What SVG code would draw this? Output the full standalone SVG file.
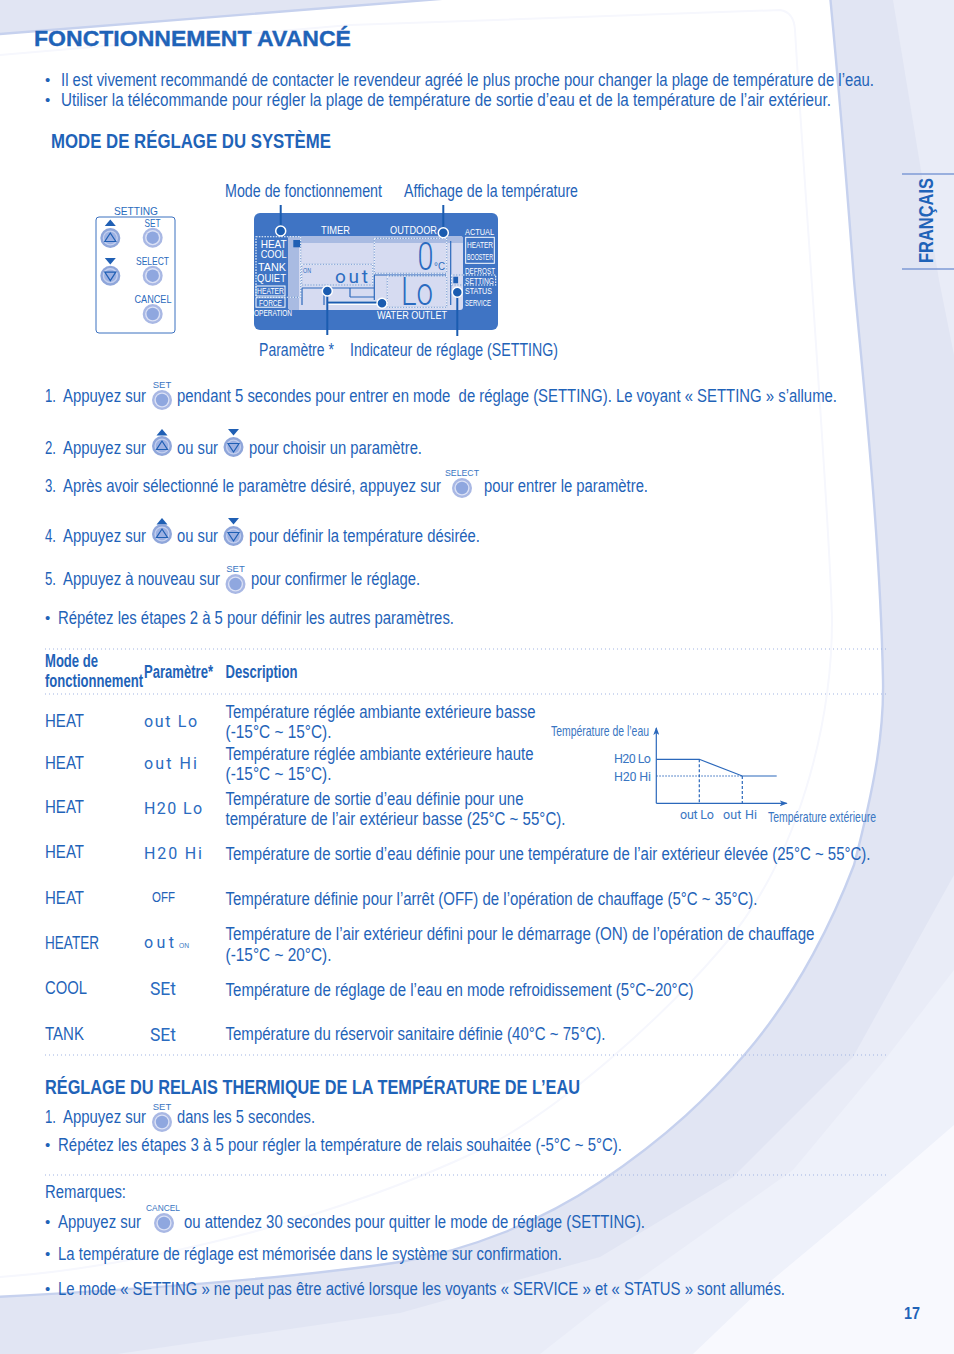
<svg xmlns="http://www.w3.org/2000/svg" width="954" height="1354" viewBox="0 0 954 1354">
<style>
text{font-family:"Liberation Sans",Arial,sans-serif;fill:#1f63b8}
.t{font-size:17.5px}
.bu{font-size:15px}
.b{font-weight:bold}
.h{font-size:20.5px;font-weight:bold}
.th{font-size:17.5px;font-weight:bold}
.sm{font-size:14.5px;fill:#3a76c2}
.lb{font-size:9.5px;fill:#3a76c2;text-anchor:middle}
.rl{font-size:11.5px;text-anchor:middle;fill:#2a6bbd}
.seg{font-family:Roboto,"Liberation Sans",sans-serif;font-size:16px;font-weight:400;fill:#2a6bc0}
.segs{font-family:Roboto,"Liberation Sans",sans-serif;font-size:12.5px;fill:#3a76c2}
.w{fill:#fff;font-size:10.5px}
.ws{fill:#fff;font-size:9px}
.dot{stroke:#9fb3e2;stroke-width:1;stroke-dasharray:1 3;fill:none}
.lead{stroke:#1b5cb0;stroke-width:2;fill:none}
.lcdl{stroke:#2b68bb;stroke-width:1.2;fill:none}
.dash{fill:none;stroke:#fff;stroke-width:1.1;stroke-dasharray:1.6 1.2}
.dashb{fill:none;stroke:#2b68bb;stroke-width:1.1;stroke-opacity:.5}
.ch{stroke:#2b68bb;stroke-width:1.2;fill:none}
</style>
<defs>
<g id="btn"><circle r="10" fill="#a9b8e4"/><circle r="7.6" fill="#dbe1f5"/><circle r="6.2" fill="#8fa7df"/></g>
<g id="up"><circle r="10" fill="#8fa6da"/><circle r="7.6" fill="#c3cfee"/><circle r="6.2" fill="#9db1e2"/><path d="M0-5 L5.5 3.5 H-5.5Z" fill="none" stroke="#1f5fb4" stroke-width="1.2"/></g>
<g id="down"><circle r="10" fill="#8fa6da"/><circle r="7.6" fill="#c3cfee"/><circle r="6.2" fill="#9db1e2"/><path d="M0 5 L5.5 -3.5 H-5.5Z" fill="none" stroke="#1f5fb4" stroke-width="1.2"/></g>
<path id="tu" d="M0 0 L5.5 6.5 H-5.5Z" fill="#1f5fb4"/>
<path id="td" d="M0 6.5 L5.5 0 H-5.5Z" fill="#1f5fb4"/>
<marker id="ah" markerWidth="8" markerHeight="6" refX="7" refY="3" orient="auto" markerUnits="userSpaceOnUse"><path d="M0 0 L8 3 L0 6 L2 3Z" fill="#2b68bb"/></marker>
</defs>

<g id="background">
<rect width="954" height="1354" fill="#e1e5f3"/>
<path d="M893 0H954V355L939 280Z" fill="#e9ecf7"/>
<path d="M954 875L853 1057L733 1177L600 1257L400 1313L117 1354H954Z" fill="#e9ecf7"/>
<path d="M954 970L887 1057L793 1170L600 1307L540 1354H954Z" fill="#eef1fa"/>
<path d="M954 1125L850 1215L760 1290L693 1354H954Z" fill="#f8f9fe"/>
<path d="M-5 34.400L490 -5H830C840 100 848 200 854 280C862 370 880 530 883 680C884 730 876 780 854 865C835 915 800 990 746 1053C710 1095 670 1135 600 1182C540 1222 470 1250 400 1262C280 1280 130 1290 -5 1297Z" fill="#fff" stroke="#c6d1ee" stroke-width="2.400"/>
<path d="M0 55L350 25L780 10Q794 12 795 30C805 200 830 520 832 620C832 720 800 860 720 950C660 1020 560 1110 480 1150C300 1235 100 1270 0 1277" fill="none" stroke="#f6f7fd" stroke-width="2"/>
</g>

<g id="header">
<text class="h" x="34" y="46" textLength="317" lengthAdjust="spacingAndGlyphs" style="font-size:21.5px;stroke:#1f63b8;stroke-width:.35">FONCTIONNEMENT AVANCÉ</text>
<text class="bu" x="45" y="85">•</text>
<text class="t" x="61" y="86" textLength="813" lengthAdjust="spacingAndGlyphs">Il est vivement recommandé de contacter le revendeur agréé le plus proche pour changer la plage de température de l’eau.</text>
<text class="bu" x="45" y="105">•</text>
<text class="t" x="61" y="106" textLength="770" lengthAdjust="spacingAndGlyphs">Utiliser la télécommande pour régler la plage de température de sortie d’eau et de la température de l’air extérieur.</text>
<text class="h" x="51" y="148" textLength="280" lengthAdjust="spacingAndGlyphs">MODE DE RÉGLAGE DU SYSTÈME</text>
</g>

<g id="remote">
<rect x="96" y="217" width="79" height="116" rx="3" fill="#fff" stroke="#3a70bf" stroke-width="1"/>
<text class="rl" x="136" y="215" textLength="44" lengthAdjust="spacingAndGlyphs">SETTING</text>
<text class="rl" x="152.500" y="227" textLength="16" lengthAdjust="spacingAndGlyphs">SET</text>
<text class="rl" x="152.500" y="265" textLength="33" lengthAdjust="spacingAndGlyphs">SELECT</text>
<text class="rl" x="153" y="303" textLength="37" lengthAdjust="spacingAndGlyphs">CANCEL</text>
<use href="#tu" x="110.300" y="219.500"/><use href="#up" x="110.300" y="238"/>
<use href="#td" x="110.300" y="258"/><use href="#down" x="110.300" y="275.700"/>
<use href="#btn" x="152.700" y="237.700"/><use href="#btn" x="152.700" y="275.700"/><use href="#btn" x="152.700" y="314"/>
</g>

<g id="lcd-labels">
<text class="t" x="225" y="197" textLength="157" lengthAdjust="spacingAndGlyphs">Mode de fonctionnement</text>
<text class="t" x="404" y="197" textLength="174" lengthAdjust="spacingAndGlyphs">Affichage de la température</text>
<text class="t" x="259" y="356" textLength="75" lengthAdjust="spacingAndGlyphs">Paramètre *</text>
<text class="t" x="350" y="356" textLength="208" lengthAdjust="spacingAndGlyphs">Indicateur de réglage (SETTING)</text>
</g>

<g id="lcd">
<rect x="254" y="213" width="244" height="117" rx="6" fill="#3f74c4"/>
<rect x="288" y="236" width="175" height="74" rx="3" fill="#d6dbf1"/>
<path d="M288 239q0-3 3-3H460q3 0 3 3v4H299v67H291q-3 0-3-3Z" fill="#a9bbe2"/>
<text class="w" x="321" y="233.500" textLength="29" lengthAdjust="spacingAndGlyphs">TIMER</text>
<text class="w" x="390" y="233.500" textLength="47" lengthAdjust="spacingAndGlyphs">OUTDOOR</text>
<text class="ws" x="465" y="234.500" textLength="29" lengthAdjust="spacingAndGlyphs">ACTUAL</text>
<rect x="465.700" y="237.300" width="28.600" height="26" fill="none" stroke="#fff" stroke-width="1"/>
<text class="ws" x="467" y="247.700" textLength="26" lengthAdjust="spacingAndGlyphs">HEATER</text>
<text class="ws" x="467" y="259.500" textLength="26" lengthAdjust="spacingAndGlyphs">BOOSTER</text>
<text class="ws" x="465" y="273.500" textLength="30" lengthAdjust="spacingAndGlyphs">DEFROST</text>
<text class="ws" x="465" y="283.500" textLength="29" lengthAdjust="spacingAndGlyphs">SETTING</text>
<text class="ws" x="465" y="294" textLength="27" lengthAdjust="spacingAndGlyphs">STATUS</text>
<text class="ws" x="465" y="306" textLength="26" lengthAdjust="spacingAndGlyphs">SERVICE</text>
<text class="w" x="260.700" y="247.700" textLength="26" lengthAdjust="spacingAndGlyphs" style="font-size:11.5px">HEAT</text>
<text class="w" x="260.700" y="258" textLength="26" lengthAdjust="spacingAndGlyphs" style="font-size:11.5px">COOL</text>
<text class="w" x="258" y="271" textLength="28" lengthAdjust="spacingAndGlyphs" style="font-size:11.500px">TANK</text>
<text class="w" x="257" y="282" textLength="29" lengthAdjust="spacingAndGlyphs" style="font-size:11.500px">QUIET</text>
<rect x="256" y="286" width="29" height="10" fill="none" stroke="#fff" stroke-width="1"/>
<text class="ws" x="257" y="294" textLength="27" lengthAdjust="spacingAndGlyphs">HEATER</text>
<rect x="256" y="297.700" width="29" height="9.500" fill="none" stroke="#fff" stroke-width="1"/>
<text class="ws" x="259" y="305.500" textLength="23" lengthAdjust="spacingAndGlyphs">FORCE</text>
<text class="ws" x="254" y="316" textLength="38" lengthAdjust="spacingAndGlyphs">OPERATION</text>
<text class="w" x="377" y="318.500" textLength="70" lengthAdjust="spacingAndGlyphs">WATER OUTLET</text>
<path class="lcdl" d="M302 288V305M302 288H374M350 288V297M350 297H374M324 288V305M374.300 275V300M374 275H446M450.700 241V305"/>
<rect x="293.300" y="240" width="7.400" height="7.300" fill="#1f5fb4"/>
<rect x="453.300" y="276.700" width="4.800" height="6.600" fill="#1f5fb4"/>
<text x="303" y="273" textLength="8" lengthAdjust="spacingAndGlyphs" style="font-size:7.500px;fill:#2a6bbd">ON</text>
<text class="seg" x="335" y="283" textLength="33" lengthAdjust="spacing" style="font-size:19px">out</text>
<text class="seg" x="417.500" y="270" textLength="16" lengthAdjust="spacingAndGlyphs" style="font-size:38px;font-weight:300">0</text>
<text x="434" y="270" textLength="11" lengthAdjust="spacingAndGlyphs" style="font-size:10px;fill:#2a6bbd">°C</text>
<text class="seg" x="401" y="305" textLength="32" lengthAdjust="spacingAndGlyphs" style="font-size:38px;font-weight:300">Lo</text>
<g>
<rect class="dashb" x="256" y="236.700" width="44.700" height="60.600"/><rect class="dash" x="256" y="236.700" width="44.700" height="60.600"/>
<rect class="dashb" x="374.300" y="238.300" width="72.400" height="35"/><rect class="dash" x="374.300" y="238.300" width="72.400" height="35"/>
<rect class="dashb" x="301.700" y="264.300" width="71" height="20.700"/><rect class="dash" x="301.700" y="264.300" width="71" height="20.700"/>
<rect class="dashb" x="387.300" y="276" width="59.400" height="31.300"/><rect class="dash" x="387.300" y="276" width="59.400" height="31.300"/>
<rect class="dashb" x="451.700" y="275" width="44" height="10"/><rect class="dash" x="451.700" y="275" width="44" height="10"/>
</g>
</g>

<g id="connectors">
<path class="lead" d="M280.700 205V231"/>
<path class="lead" d="M443.300 205V232"/>
<path d="M327.300 303H382" stroke="#fff" stroke-width="4" fill="none"/>
<path class="lead" d="M327.300 291V335M327.300 302.500H382"/>
<path class="lead" d="M457.300 292V336"/>
<g fill="#1b5cb0" stroke="#fff" stroke-width="1.500">
<circle cx="280.700" cy="231" r="5"/><circle cx="443.300" cy="232.700" r="5"/><circle cx="327.300" cy="291" r="5"/><circle cx="382" cy="303.300" r="5"/><circle cx="457.300" cy="292.300" r="5"/>
</g>
</g>

<g id="steps">
<text class="t" x="45" y="402" textLength="11" lengthAdjust="spacingAndGlyphs">1.</text><text class="t" x="63" y="402" textLength="83" lengthAdjust="spacingAndGlyphs">Appuyez sur</text>
<text class="lb" x="162" y="388">SET</text><use href="#btn" x="162" y="400"/>
<text class="t" x="177" y="402" textLength="660" lengthAdjust="spacingAndGlyphs" xml:space="preserve">pendant 5 secondes pour entrer en mode  de réglage (SETTING). Le voyant « SETTING » s’allume.</text>
<text class="t" x="45" y="454" textLength="11" lengthAdjust="spacingAndGlyphs">2.</text><text class="t" x="63" y="454" textLength="83" lengthAdjust="spacingAndGlyphs">Appuyez sur</text>
<use href="#tu" x="162" y="429"/><use href="#up" x="162" y="446"/>
<text class="t" x="177" y="454" textLength="41" lengthAdjust="spacingAndGlyphs">ou sur</text>
<use href="#td" x="233.500" y="429"/><use href="#down" x="233.500" y="447"/>
<text class="t" x="249" y="454" textLength="173" lengthAdjust="spacingAndGlyphs">pour choisir un paramètre.</text>
<text class="t" x="45" y="492" textLength="11" lengthAdjust="spacingAndGlyphs">3.</text><text class="t" x="63" y="492" textLength="378" lengthAdjust="spacingAndGlyphs">Après avoir sélectionné le paramètre désiré, appuyez sur</text>
<text class="lb" x="462" y="476" textLength="34" lengthAdjust="spacingAndGlyphs">SELECT</text><use href="#btn" x="462" y="488"/>
<text class="t" x="484" y="492" textLength="164" lengthAdjust="spacingAndGlyphs">pour entrer le paramètre.</text>
<text class="t" x="45" y="542" textLength="11" lengthAdjust="spacingAndGlyphs">4.</text><text class="t" x="63" y="542" textLength="83" lengthAdjust="spacingAndGlyphs">Appuyez sur</text>
<use href="#tu" x="162" y="518"/><use href="#up" x="162" y="534"/>
<text class="t" x="177" y="542" textLength="41" lengthAdjust="spacingAndGlyphs">ou sur</text>
<use href="#td" x="233.500" y="518"/><use href="#down" x="233.500" y="536"/>
<text class="t" x="249" y="542" textLength="231" lengthAdjust="spacingAndGlyphs">pour définir la température désirée.</text>
<text class="t" x="45" y="585" textLength="11" lengthAdjust="spacingAndGlyphs">5.</text><text class="t" x="63" y="585" textLength="157" lengthAdjust="spacingAndGlyphs">Appuyez à nouveau sur</text>
<text class="lb" x="235.500" y="572">SET</text><use href="#btn" x="235.500" y="584"/>
<text class="t" x="251" y="585" textLength="169" lengthAdjust="spacingAndGlyphs">pour confirmer le réglage.</text>
<text class="bu" x="45" y="623">•</text>
<text class="t" x="58" y="624" textLength="396" lengthAdjust="spacingAndGlyphs">Répétez les étapes 2 à 5 pour définir les autres paramètres.</text>
</g>

<g id="rules">
<path class="dot" d="M45 649H888M45 694H888M45 1055H888M45 1175H888"/>
</g>

<g id="table">
<text class="th" x="45" y="667" textLength="53" lengthAdjust="spacingAndGlyphs">Mode de</text>
<text class="th" x="45" y="687" textLength="98" lengthAdjust="spacingAndGlyphs">fonctionnement</text>
<text class="th" x="144" y="678" textLength="69" lengthAdjust="spacingAndGlyphs">Paramètre*</text>
<text class="th" x="225.500" y="678" textLength="72" lengthAdjust="spacingAndGlyphs">Description</text>

<text class="t" x="45" y="727" textLength="39" lengthAdjust="spacingAndGlyphs">HEAT</text>
<text class="seg" x="144" y="727" textLength="53" lengthAdjust="spacing">out Lo</text>
<text class="t" x="225.500" y="718" textLength="310" lengthAdjust="spacingAndGlyphs">Température réglée ambiante extérieure basse</text>
<text class="t" x="225.500" y="738" textLength="106" lengthAdjust="spacingAndGlyphs">(-15°C ~ 15°C).</text>

<text class="t" x="45" y="769" textLength="39" lengthAdjust="spacingAndGlyphs">HEAT</text>
<text class="seg" x="144" y="769" textLength="53" lengthAdjust="spacing">out Hi</text>
<text class="t" x="225.500" y="760" textLength="308" lengthAdjust="spacingAndGlyphs">Température réglée ambiante extérieure haute</text>
<text class="t" x="225.500" y="780" textLength="106" lengthAdjust="spacingAndGlyphs">(-15°C ~ 15°C).</text>

<text class="t" x="45" y="813" textLength="39" lengthAdjust="spacingAndGlyphs">HEAT</text>
<text class="seg" x="144" y="814" textLength="58" lengthAdjust="spacing">H20 Lo</text>
<text class="t" x="225.500" y="805" textLength="298" lengthAdjust="spacingAndGlyphs">Température de sortie d’eau définie pour une</text>
<text class="t" x="225.500" y="825" textLength="340" lengthAdjust="spacingAndGlyphs">température de l’air extérieur basse (25°C ~ 55°C).</text>

<text class="t" x="45" y="858" textLength="39" lengthAdjust="spacingAndGlyphs">HEAT</text>
<text class="seg" x="144" y="859" textLength="58" lengthAdjust="spacing">H20 Hi</text>
<text class="t" x="225.500" y="860" textLength="645" lengthAdjust="spacingAndGlyphs">Température de sortie d’eau définie pour une température de l’air extérieur élevée (25°C ~ 55°C).</text>

<text class="t" x="45" y="904" textLength="39" lengthAdjust="spacingAndGlyphs">HEAT</text>
<text x="152" y="902" textLength="23" lengthAdjust="spacingAndGlyphs" style="font-size:14px">OFF</text>
<text class="t" x="225.500" y="905" textLength="532" lengthAdjust="spacingAndGlyphs">Température définie pour l’arrêt (OFF) de l’opération de chauffage (5°C ~ 35°C).</text>

<text class="t" x="45" y="949" textLength="54" lengthAdjust="spacingAndGlyphs">HEATER</text>
<text class="seg" x="144" y="948" textLength="30" lengthAdjust="spacing">out</text>
<text x="179" y="948" textLength="10" lengthAdjust="spacingAndGlyphs" style="font-size:8px;fill:#3a76c2">ON</text>
<text class="t" x="225.500" y="940" textLength="589" lengthAdjust="spacingAndGlyphs">Température de l’air extérieur défini pour le démarrage (ON) de l’opération de chauffage</text>
<text class="t" x="225.500" y="961" textLength="106" lengthAdjust="spacingAndGlyphs">(-15°C ~ 20°C).</text>

<text class="t" x="45" y="994" textLength="42" lengthAdjust="spacingAndGlyphs">COOL</text>
<text class="seg" x="150" y="995" textLength="26" lengthAdjust="spacingAndGlyphs" style="font-size:18px">SEt</text>
<text class="t" x="225.500" y="996" textLength="468" lengthAdjust="spacingAndGlyphs">Température de réglage de l’eau en mode refroidissement (5°C~20°C)</text>

<text class="t" x="45" y="1040" textLength="39" lengthAdjust="spacingAndGlyphs">TANK</text>
<text class="seg" x="150" y="1041" textLength="26" lengthAdjust="spacingAndGlyphs" style="font-size:18px">SEt</text>
<text class="t" x="225.500" y="1040" textLength="380" lengthAdjust="spacingAndGlyphs">Température du réservoir sanitaire définie (40°C ~ 75°C).</text>
</g>

<g id="chart">
<text class="sm" x="551" y="736" textLength="98" lengthAdjust="spacingAndGlyphs">Température de l’eau</text>
<text class="segs" x="614" y="763" textLength="37" lengthAdjust="spacing">H20 Lo</text>
<text class="segs" x="614" y="781" textLength="37" lengthAdjust="spacing">H20 Hi</text>
<text class="segs" x="680" y="819" textLength="34" lengthAdjust="spacing">out Lo</text>
<text class="segs" x="723" y="819" textLength="34" lengthAdjust="spacing">out Hi</text>
<text class="sm" x="768" y="822" textLength="108" lengthAdjust="spacingAndGlyphs">Température extérieure</text>
<path class="ch" d="M656.300 803.300V728" marker-end="url(#ah)"/>
<path class="ch" d="M656.300 803.300H786.700" marker-end="url(#ah)"/>
<path class="ch" d="M656.300 759.300H699.300L742.300 776H776.700"/>
<path class="ch" d="M656.300 776H742.300" stroke-dasharray="1.500 1.500" stroke-width="1"/>
<path class="ch" d="M699.300 759.300V803M742.300 776V803" stroke-dasharray="3 2"/>
</g>

<g id="relay">
<text class="h" x="45" y="1094" textLength="535" lengthAdjust="spacingAndGlyphs">RÉGLAGE DU RELAIS THERMIQUE DE LA TEMPÉRATURE DE L’EAU</text>
<text class="t" x="45" y="1123" textLength="11" lengthAdjust="spacingAndGlyphs">1.</text><text class="t" x="63" y="1123" textLength="83" lengthAdjust="spacingAndGlyphs">Appuyez sur</text>
<text class="lb" x="162" y="1110">SET</text><use href="#btn" x="162" y="1122"/>
<text class="t" x="177" y="1123" textLength="138" lengthAdjust="spacingAndGlyphs">dans les 5 secondes.</text>
<text class="bu" x="45" y="1150">•</text>
<text class="t" x="58" y="1151" textLength="564" lengthAdjust="spacingAndGlyphs">Répétez les étapes 3 à 5 pour régler la température de relais souhaitée (-5°C ~ 5°C).</text>
</g>

<g id="notes">
<text class="t" x="45" y="1198" textLength="81" lengthAdjust="spacingAndGlyphs">Remarques:</text>
<text class="bu" x="45" y="1227">•</text>
<text class="t" x="58" y="1228" textLength="83" lengthAdjust="spacingAndGlyphs">Appuyez sur</text>
<text class="lb" x="163" y="1211" textLength="34" lengthAdjust="spacingAndGlyphs">CANCEL</text><use href="#btn" x="164" y="1223"/>
<text class="t" x="184" y="1228" textLength="461" lengthAdjust="spacingAndGlyphs">ou attendez 30 secondes pour quitter le mode de réglage (SETTING).</text>
<text class="bu" x="45" y="1259">•</text>
<text class="t" x="58" y="1260" textLength="504" lengthAdjust="spacingAndGlyphs">La température de réglage est mémorisée dans le système sur confirmation.</text>
<text class="bu" x="45" y="1294">•</text>
<text class="t" x="58" y="1295" textLength="727" lengthAdjust="spacingAndGlyphs">Le mode « SETTING » ne peut pas être activé lorsque les voyants « SERVICE » et « STATUS » sont allumés.</text>
<text class="b" x="904" y="1319" textLength="16" lengthAdjust="spacingAndGlyphs" style="font-size:17px">17</text>
</g>

<g id="language-tab">
<path d="M902 174H954M902 269H954" fill="none" stroke="#7f9bd6" stroke-width="1.500"/>
<text class="b" transform="translate(933 263) rotate(-90)" textLength="85" lengthAdjust="spacingAndGlyphs" style="font-size:21px">FRANÇAIS</text>
</g>
</svg>
